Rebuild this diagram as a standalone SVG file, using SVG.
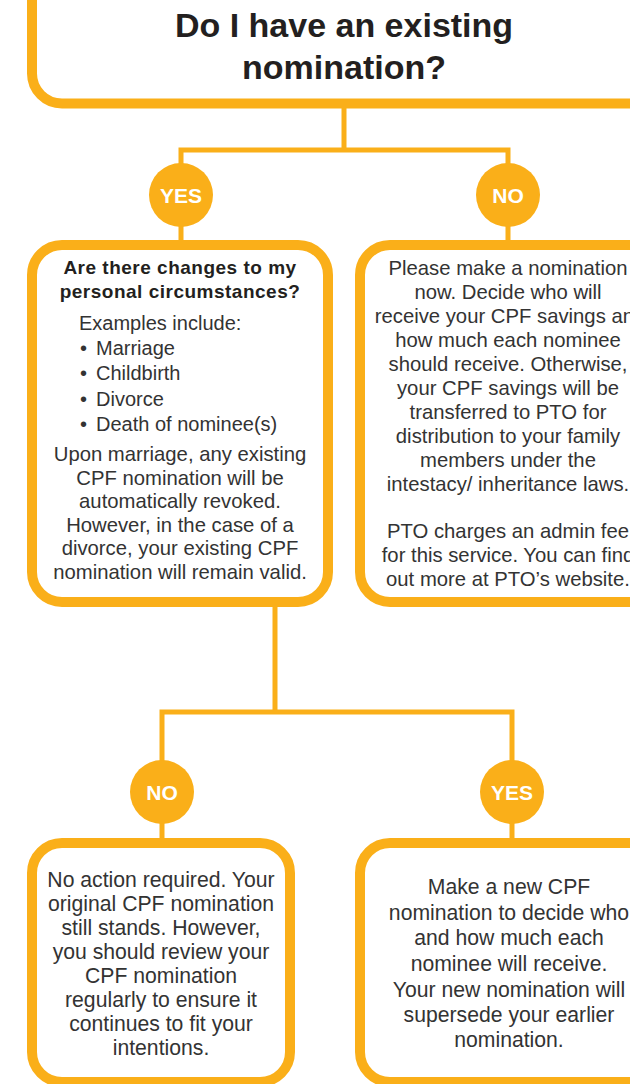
<svg xmlns="http://www.w3.org/2000/svg" width="630" height="1084" viewBox="0 0 630 1084">
<style>
.box{fill:#ffffff;stroke:#FAAF19;stroke-width:10}
.conn{fill:none;stroke:#FAAF19;stroke-width:5}
.dot{fill:#FAAF19}
.lbl{font-family:"Liberation Sans",Arial,sans-serif;font-weight:bold;font-size:21px;fill:#ffffff;text-anchor:middle}
.title{font-family:"Liberation Sans",Arial,sans-serif;font-weight:bold;font-size:34px;fill:#231f20;text-anchor:middle}
.head{font-family:"Liberation Sans",Arial,sans-serif;font-weight:bold;font-size:19px;letter-spacing:0.5px;fill:#231f20;text-anchor:middle}
.body{font-family:"Liberation Sans",Arial,sans-serif;font-size:20.3px;fill:#333333;text-anchor:middle}
.low{font-size:21.2px}
.list{font-family:"Liberation Sans",Arial,sans-serif;font-size:20px;fill:#333333}
</style>
<rect width="630" height="1084" fill="#ffffff"/>
<g id="connectors">
<path class="conn" d="M344 105 V150 M181 150 H508 M181 147.5 V240 M508 147.5 V240"/>
<path class="conn" d="M275 605 V712 M162 712 H512 M162 709.5 V840 M512 709.5 V840"/>
</g>
<g id="q1">
<rect class="box" x="32" y="-40" width="720" height="143.5" rx="30"/>
<text class="title" x="344" y="37">Do I have an existing</text>
<text class="title" x="344" y="79">nomination?</text>
</g>
<g id="yes1">
<circle class="dot" cx="181" cy="195" r="32"/>
<text class="lbl" x="181" y="203">YES</text>
</g>
<g id="no1">
<circle class="dot" cx="508" cy="195" r="32"/>
<text class="lbl" x="508" y="203">NO</text>
</g>
<g id="q2">
<rect class="box" x="32" y="245" width="296" height="357" rx="30"/>
<text class="head" x="180" y="274">Are there changes to my</text>
<text class="head" x="180" y="298">personal circumstances?</text>
<text class="list" x="79" y="330">Examples include:</text>
<text class="list" x="80" y="355">•</text><text class="list" x="96" y="355">Marriage</text>
<text class="list" x="80" y="380">•</text><text class="list" x="96" y="380">Childbirth</text>
<text class="list" x="80" y="406">•</text><text class="list" x="96" y="406">Divorce</text>
<text class="list" x="80" y="431">•</text><text class="list" x="96" y="431">Death of nominee(s)</text>
<text class="body" x="180" y="461">Upon marriage, any existing</text>
<text class="body" x="180" y="485">CPF nomination will be</text>
<text class="body" x="180" y="508">automatically revoked.</text>
<text class="body" x="180" y="532">However, in the case of a</text>
<text class="body" x="180" y="555">divorce, your existing CPF</text>
<text class="body" x="180" y="579">nomination will remain valid.</text>
</g>
<g id="nominate">
<rect class="box" x="360" y="245" width="400" height="357" rx="30"/>
<text class="body" x="508" y="275">Please make a nomination</text>
<text class="body" x="508" y="299">now. Decide who will</text>
<text class="body" x="510" y="323">receive your CPF savings and</text>
<text class="body" x="508" y="347">how much each nominee</text>
<text class="body" x="508" y="371">should receive. Otherwise,</text>
<text class="body" x="508" y="395">your CPF savings will be</text>
<text class="body" x="508" y="419">transferred to PTO for</text>
<text class="body" x="508" y="443">distribution to your family</text>
<text class="body" x="508" y="467">members under the</text>
<text class="body" x="508" y="491">intestacy/ inheritance laws.</text>
<text class="body" x="508" y="538">PTO charges an admin fee</text>
<text class="body" x="508" y="562">for this service. You can find</text>
<text class="body" x="508" y="586">out more at PTO’s website.</text>
</g>
<g id="no2">
<circle class="dot" cx="162" cy="792" r="32"/>
<text class="lbl" x="162" y="800">NO</text>
</g>
<g id="yes2">
<circle class="dot" cx="512" cy="792" r="32"/>
<text class="lbl" x="512" y="800">YES</text>
</g>
<g id="noaction">
<rect class="box" x="32" y="843" width="258" height="239" rx="30"/>
<text class="body low" x="161" y="887">No action required. Your</text>
<text class="body low" x="161" y="911">original CPF nomination</text>
<text class="body low" x="161" y="935">still stands. However,</text>
<text class="body low" x="161" y="959">you should review your</text>
<text class="body low" x="161" y="983">CPF nomination</text>
<text class="body low" x="161" y="1007">regularly to ensure it</text>
<text class="body low" x="161" y="1031">continues to fit your</text>
<text class="body low" x="161" y="1055">intentions.</text>
</g>
<g id="newnom">
<rect class="box" x="360" y="843" width="400" height="239" rx="30"/>
<text class="body low" x="509" y="894">Make a new CPF</text>
<text class="body low" x="509" y="920">nomination to decide who</text>
<text class="body low" x="509" y="945">and how much each</text>
<text class="body low" x="509" y="971">nominee will receive.</text>
<text class="body low" x="509" y="997">Your new nomination will</text>
<text class="body low" x="509" y="1022">supersede your earlier</text>
<text class="body low" x="509" y="1047">nomination.</text>
</g>
</svg>
